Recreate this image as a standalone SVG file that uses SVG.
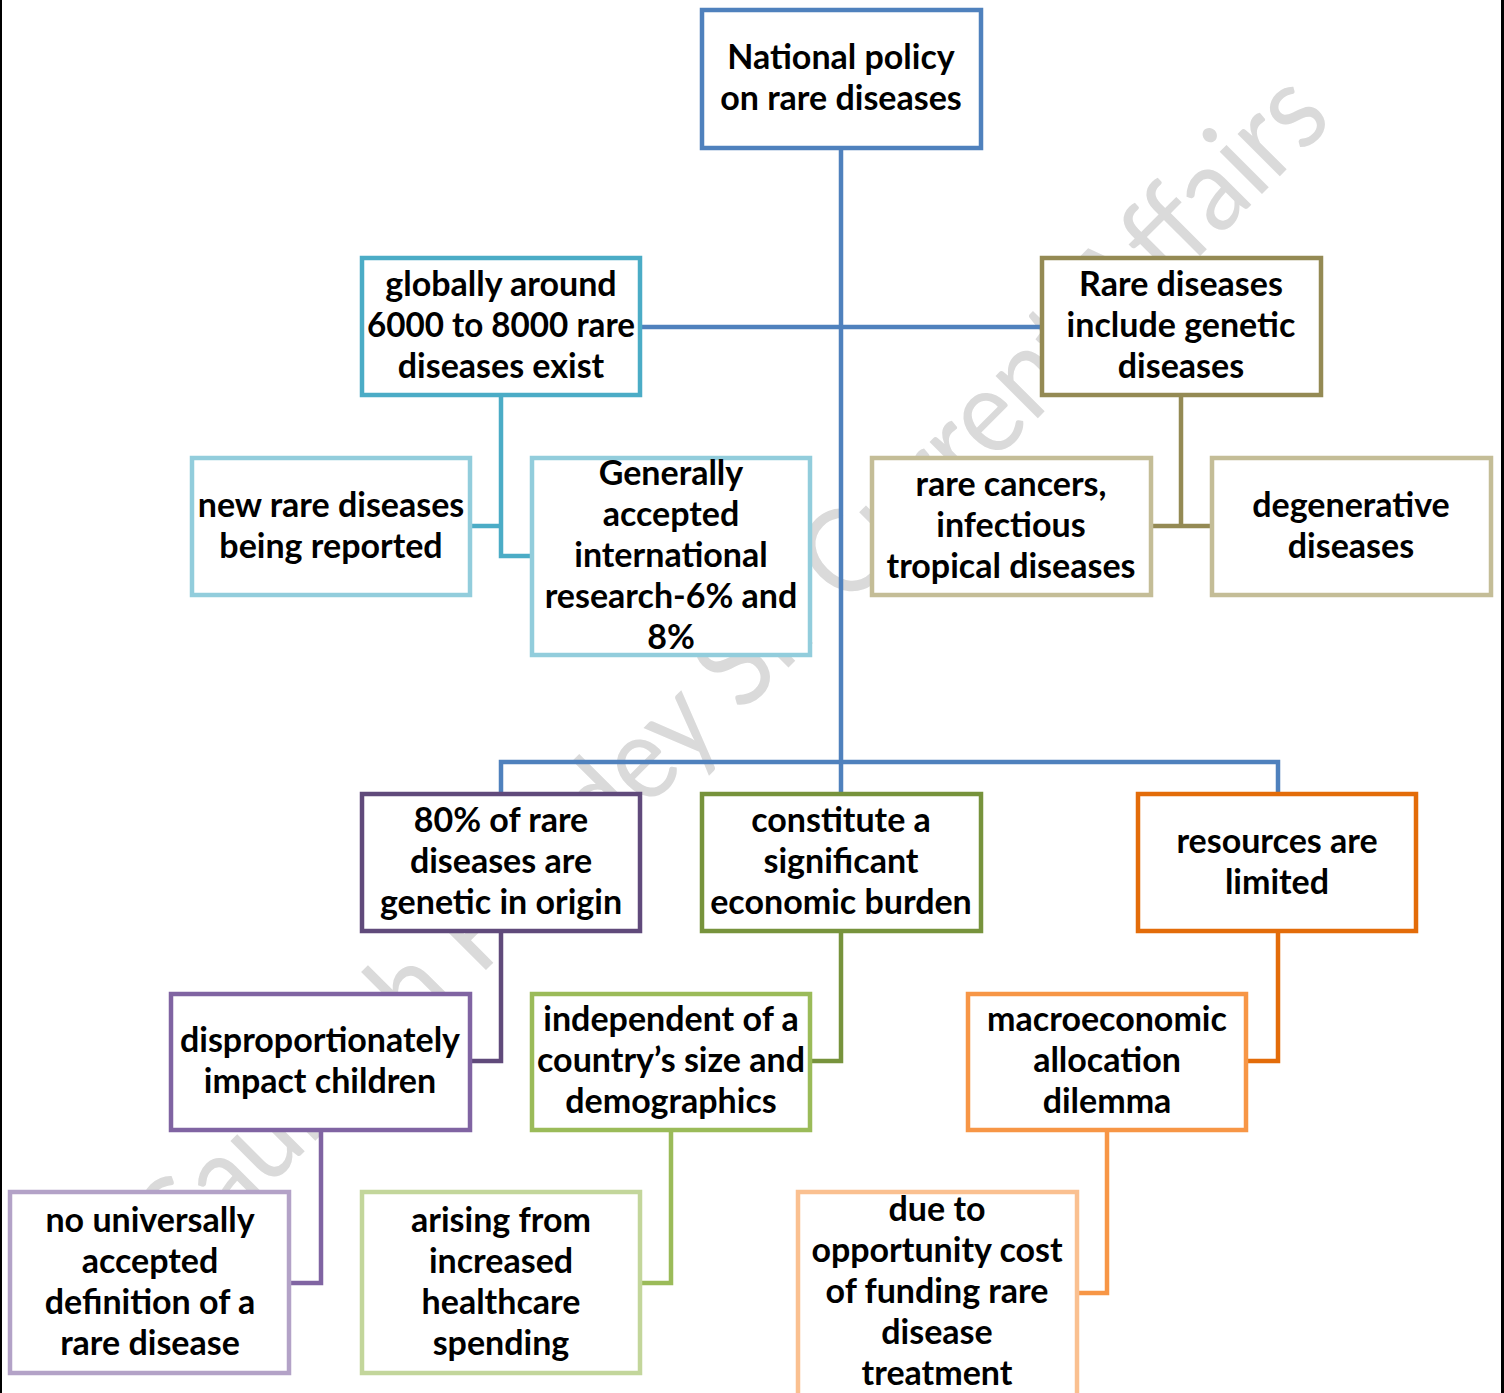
<svg xmlns="http://www.w3.org/2000/svg" width="1504" height="1393" viewBox="0 0 1504 1393">
<style>
.bx{fill:#fff;stroke-width:4.5}
.t{font-family:Lato,"Open Sans","Liberation Sans",sans-serif;font-weight:bold;font-size:34px;fill:#000;text-anchor:middle}
.c{fill:none;stroke-width:4.5;stroke-linejoin:miter;stroke-linecap:butt}
.wm{font-family:Lato,"Open Sans","Liberation Sans",sans-serif;font-size:118px;fill:#dadada;text-anchor:middle}
</style>
<rect x="0" y="0" width="1504" height="1393" fill="#fff"/>
<text class="wm" x="762" y="694" textLength="1620" lengthAdjust="spacingAndGlyphs" transform="rotate(-45 762 694)">Saurabh Pandey Sir Current Affairs</text>
<g id="connectors">
<path class="c" stroke="#4f81bd" d="M841,150V762M642,327H1040M501,792V762H1278V792M841,762V792"/>
<path class="c" stroke="#4bacc6" d="M501,397V556H530M472,526H501"/>
<path class="c" stroke="#948a54" d="M1181,397V526M1153,526H1210"/>
<path class="c" stroke="#604a7b" d="M501,933V1061H472"/>
<path class="c" stroke="#8064a2" d="M321,1132V1283H291"/>
<path class="c" stroke="#77933c" d="M841,933V1061H812"/>
<path class="c" stroke="#9bbb59" d="M671,1132V1283H642"/>
<path class="c" stroke="#e36c09" d="M1278,933V1061H1248"/>
<path class="c" stroke="#f79646" d="M1107,1132V1293H1079"/>
</g>
<g id="n1"><rect class="bx" stroke="#4f81bd" x="702" y="10" width="279" height="138"/>
<text class="t" x="841" y="69">National policy</text><text class="t" x="841" y="110">on rare diseases</text></g>
<g id="n2"><rect class="bx" stroke="#4bacc6" x="362" y="258" width="278" height="137"/>
<text class="t" x="501" y="296">globally around</text><text class="t" x="501" y="337" textLength="268" lengthAdjust="spacingAndGlyphs">6000 to 8000 rare</text><text class="t" x="501" y="378">diseases exist</text></g>
<g id="n3"><rect class="bx" stroke="#948a54" x="1042" y="258" width="279" height="137"/>
<text class="t" x="1181" y="296">Rare diseases</text><text class="t" x="1181" y="337">include genetic</text><text class="t" x="1181" y="378">diseases</text></g>
<g id="n4"><rect class="bx" stroke="#92cddc" x="192" y="458" width="278" height="137"/>
<text class="t" x="331" y="517">new rare diseases</text><text class="t" x="331" y="558">being reported</text></g>
<g id="n5"><rect class="bx" stroke="#92cddc" x="532" y="458" width="278" height="197"/>
<text class="t" x="671" y="485">Generally</text><text class="t" x="671" y="526">accepted</text><text class="t" x="671" y="567">international</text><text class="t" x="671" y="608">research-6% and</text><text class="t" x="671" y="649">8%</text></g>
<g id="n6"><rect class="bx" stroke="#c4bd97" x="872" y="458" width="279" height="137"/>
<text class="t" x="1011" y="496">rare cancers,</text><text class="t" x="1011" y="537">infectious</text><text class="t" x="1011" y="578">tropical diseases</text></g>
<g id="n7"><rect class="bx" stroke="#c4bd97" x="1212" y="458" width="279" height="137"/>
<text class="t" x="1351" y="517">degenerative</text><text class="t" x="1351" y="558">diseases</text></g>
<g id="n8"><rect class="bx" stroke="#604a7b" x="362" y="794" width="278" height="137"/>
<text class="t" x="501" y="832">80% of rare</text><text class="t" x="501" y="873">diseases are</text><text class="t" x="501" y="914">genetic in origin</text></g>
<g id="n9"><rect class="bx" stroke="#77933c" x="702" y="794" width="279" height="137"/>
<text class="t" x="841" y="832">constitute a</text><text class="t" x="841" y="873">significant</text><text class="t" x="841" y="914">economic burden</text></g>
<g id="n10"><rect class="bx" stroke="#e36c09" x="1138" y="794" width="278" height="137"/>
<text class="t" x="1277" y="853">resources are</text><text class="t" x="1277" y="894">limited</text></g>
<g id="n11"><rect class="bx" stroke="#8064a2" x="171" y="994" width="299" height="136"/>
<text class="t" x="320" y="1052">disproportionately</text><text class="t" x="320" y="1093">impact children</text></g>
<g id="n12"><rect class="bx" stroke="#9bbb59" x="532" y="994" width="278" height="136"/>
<text class="t" x="671" y="1031">independent of a</text><text class="t" x="671" y="1072">country’s size and</text><text class="t" x="671" y="1113">demographics</text></g>
<g id="n13"><rect class="bx" stroke="#f79646" x="968" y="994" width="278" height="136"/>
<text class="t" x="1107" y="1031">macroeconomic</text><text class="t" x="1107" y="1072">allocation</text><text class="t" x="1107" y="1113">dilemma</text></g>
<g id="n14"><rect class="bx" stroke="#b3a2c7" x="10" y="1192" width="279" height="181"/>
<text class="t" x="150" y="1232">no universally</text><text class="t" x="150" y="1273">accepted</text><text class="t" x="150" y="1314">definition of a</text><text class="t" x="150" y="1355">rare disease</text></g>
<g id="n15"><rect class="bx" stroke="#c3d69b" x="362" y="1192" width="278" height="181"/>
<text class="t" x="501" y="1232">arising from</text><text class="t" x="501" y="1273">increased</text><text class="t" x="501" y="1314">healthcare</text><text class="t" x="501" y="1355">spending</text></g>
<g id="n16"><rect class="bx" stroke="#fac090" x="798" y="1192" width="279" height="210"/>
<text class="t" x="937" y="1221">due to</text><text class="t" x="937" y="1262">opportunity cost</text><text class="t" x="937" y="1303">of funding rare</text><text class="t" x="937" y="1344">disease</text><text class="t" x="937" y="1385">treatment</text></g>
<rect x="0" y="0" width="2" height="1393" fill="#000"/>
<rect x="1501" y="0" width="3" height="1393" fill="#000"/>
</svg>
